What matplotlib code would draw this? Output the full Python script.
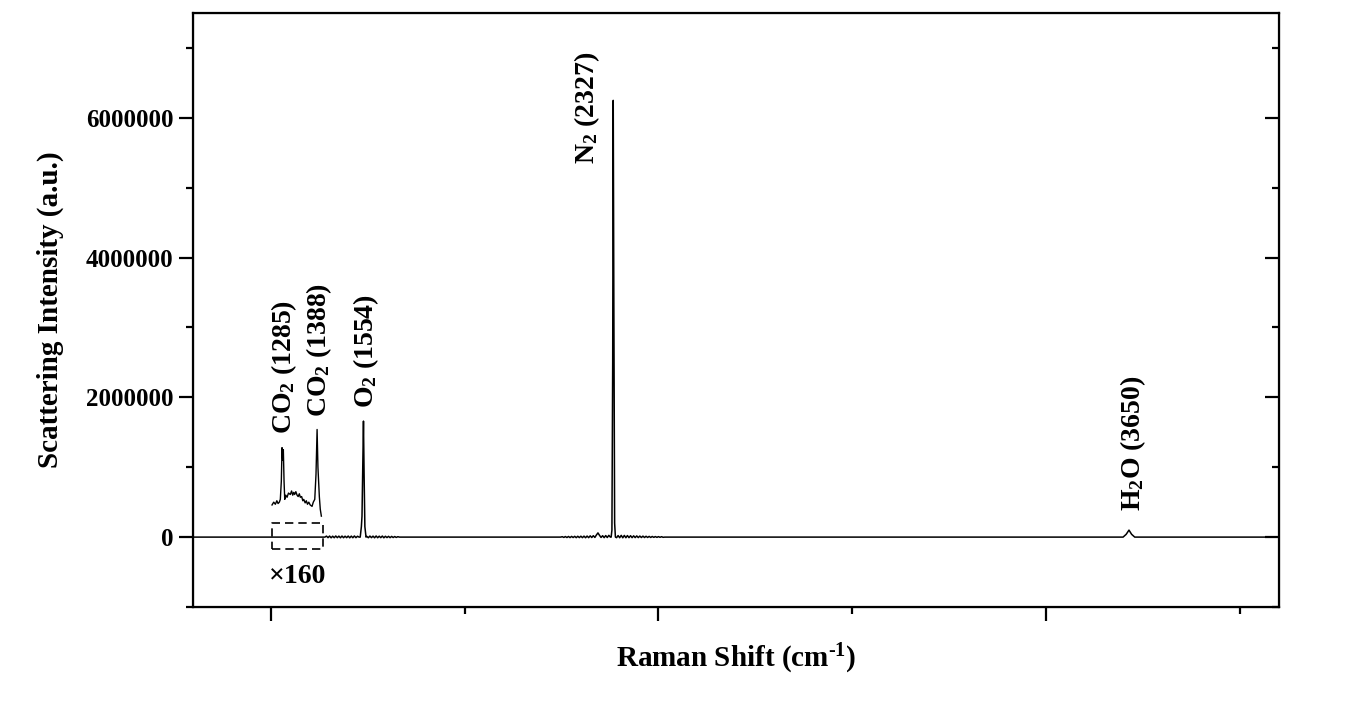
import numpy as np
import matplotlib
matplotlib.use("Agg")
import matplotlib.pyplot as plt
from matplotlib.ticker import MultipleLocator, ScalarFormatter

plt.rcParams['font.family'] = ['Liberation Serif', 'DejaVu Serif']
plt.rcParams['font.weight'] = 'bold'
plt.rcParams['mathtext.fontset'] = 'custom'
plt.rcParams['mathtext.rm'] = 'Liberation Serif:bold'
plt.rcParams['mathtext.default'] = 'regular'

# spectrum (x in detector units, y in counts; tick labels hidden in original)
o2_left_x = [557.0, 557.2, 557.4, 557.6, 557.8, 558.0, 558.2, 558.4, 558.6, 558.8, 559.0, 559.2,
             559.4, 559.6, 559.8, 560.0, 560.2, 560.4, 560.6, 560.8, 561.0, 561.2, 561.4]
o2_left_y = [0, 14, -8, 15, -10, 13, -9, 16, -8, 14, -10, 15, -9, 13, -8, 15, -10, 14, -9, 16, -8, 12, 0]
o2_peak_x = [561.55, 561.7, 561.78, 561.9, 561.97, 562.05, 562.15, 562.3]
o2_peak_y = [0, 150, 300, 1100, 1660, 900, 150, 0]
o2_right_x = [562.4, 562.6, 562.8, 563.0, 563.2, 563.4, 563.6, 563.8, 564.0, 564.2, 564.4, 564.6,
              564.8, 565.0, 565.2, 565.4, 565.6, 565.8, 566.0, 566.2, 566.4, 566.6]
o2_right_y = [10, -9, 15, -8, 14, -10, 16, -9, 13, -8, 15, -10, 12, -7, 11, -8, 10, -6, 8, -5, 6, 0]

n2_left_x = [587.4, 587.6, 587.8, 588.0, 588.2, 588.4, 588.6, 588.8, 589.0, 589.2, 589.4, 589.6,
             589.8, 590.0, 590.2, 590.4, 590.6, 590.8, 591.0, 591.2, 591.4, 591.6, 591.8, 592.0,
             592.2, 592.4, 592.6, 592.8, 593.0, 593.2, 593.4, 593.6, 593.8]
n2_left_y = [0, 6, -5, 8, -6, 9, -7, 10, -6, 11, -8, 12, -7, 13, -8, 14, -9, 15, -8, 18, -6, 20, -5,
             30, 60, 25, -5, 20, -8, 22, -6, 25, 0]
n2_peak_x = [593.9, 594.0, 594.1, 594.17, 594.25, 594.35, 594.45]
n2_peak_y = [0, 100, 2500, 6250, 3300, 200, 0]
n2_right_x = [594.6, 594.8, 595.0, 595.2, 595.4, 595.6, 595.8, 596.0, 596.2, 596.4, 596.6, 596.8,
              597.0, 597.2, 597.4, 597.6, 597.8, 598.0, 598.2, 598.4, 598.6, 598.8, 599.0, 599.2,
              599.4, 599.6, 599.8, 600.0, 600.2, 600.4, 600.6, 600.8]
n2_right_y = [-8, 22, -9, 25, -10, 24, -9, 22, -8, 20, -8, 18, -7, 17, -7, 15, -6, 14, -6, 12, -5,
              10, -5, 9, -4, 8, -4, 7, -3, 6, -3, 0]

h2o_x = [659.9, 660.3, 660.66, 661.0, 661.4]
h2o_y = [0, 40, 100, 40, 0]

start_x, start_y = [540.0], [0]
end_x, end_y = [680.0], [0]

# CO2 region magnified x160
co2_x = [550.18, 550.4, 550.61, 550.8, 550.96, 551.12, 551.25, 551.38, 551.47, 551.56, 551.64,
         551.73, 551.82, 551.95, 552.12, 552.3, 552.54, 552.7, 552.85, 552.98, 553.1, 553.25,
         553.41, 553.55, 553.7, 553.83, 554.0, 554.15, 554.27, 554.45, 554.6, 554.75, 554.92,
         555.1, 555.34, 555.5, 555.69, 555.85, 555.99, 556.1, 556.28, 556.4, 556.54]
co2_y = [0.46, 0.50, 0.47, 0.52, 0.48, 0.50, 0.54, 0.80, 1.28, 1.10, 1.25, 0.80, 0.54, 0.60, 0.57,
         0.63, 0.61, 0.66, 0.60, 0.64, 0.61, 0.65, 0.60, 0.58, 0.62, 0.57, 0.58, 0.52, 0.54, 0.49,
         0.52, 0.47, 0.50, 0.46, 0.44, 0.50, 0.54, 0.90, 1.54, 1.00, 0.58, 0.40, 0.30]

box_x = [550.18, 556.76]
box_y = [-0.171e6, 0.195e6]

labels = [r'CO$_2$ (1285)', r'CO$_2$ (1388)', r'O$_2$ (1554)', r'N$_2$ (2327)', r'H$_2$O (3650)']
label_x = [551.7, 556.24, 562.3, 590.8, 661.2]
label_y = [1.47e6, 1.72e6, 1.85e6, 5.34e6, 0.37e6]

x = np.array(start_x + o2_left_x + o2_peak_x + o2_right_x + n2_left_x + n2_peak_x + n2_right_x
             + h2o_x + end_x)
y = np.array(start_y + o2_left_y + o2_peak_y + o2_right_y + n2_left_y + n2_peak_y + n2_right_y
             + h2o_y + end_y) * 1000.0

fig = plt.figure(figsize=(13.51, 7.19), dpi=100)
ax = fig.add_axes([0.1429, 0.1558, 0.9467 - 0.1429, 0.9819 - 0.1558])

ax.plot(x, y, color='black', lw=1.1)
ax.plot(co2_x, np.array(co2_y) * 1e6, color='black', lw=1.0)
ax.plot([box_x[0], box_x[1], box_x[1], box_x[0], box_x[0]],
        [box_y[0], box_y[0], box_y[1], box_y[1], box_y[0]],
        color='black', lw=1.2, ls=(0, (5, 3)))

for t, lx, ly in zip(labels, label_x, label_y):
    ax.text(lx, ly, t, rotation=90, ha='center', va='bottom', fontsize=20, fontweight='bold')
ax.text(553.5, -0.56e6, '×160', ha='center', va='center', fontsize=20, fontweight='bold')

ax.set_xlim(540, 680)
ax.set_ylim(-1e6, 7.5e6)
ax.set_xticks([550, 600, 650])
ax.set_xticks([575, 625, 675], minor=True)
ax.set_xticklabels([])
ax.yaxis.set_major_locator(MultipleLocator(2e6))
ax.yaxis.set_minor_locator(MultipleLocator(1e6))
fmt = ScalarFormatter(useOffset=False)
fmt.set_scientific(False)
ax.yaxis.set_major_formatter(fmt)

ax.tick_params(axis='both', which='major', direction='out', length=10, width=1.6,
               labelsize=18, pad=4)
ax.tick_params(axis='both', which='minor', direction='out', length=5, width=1.6)
for s in ax.spines.values():
    s.set_linewidth(1.6)

ax2 = ax.twinx()
ax2.set_ylim(ax.get_ylim())
ax2.yaxis.set_major_locator(MultipleLocator(2e6))
ax2.yaxis.set_minor_locator(MultipleLocator(1e6))
ax2.tick_params(axis='y', which='major', direction='in', length=10, width=1.6, labelright=False)
ax2.tick_params(axis='y', which='minor', direction='in', length=5, width=1.6)

ax.set_xlabel(r'Raman Shift (cm$^{\text{-}1}$)', fontsize=21, fontweight='bold', labelpad=11)
ax.set_ylabel('Scattering Intensity (a.u.)', fontsize=21, fontweight='bold', labelpad=16)

fig.savefig('out.png', dpi=100)
